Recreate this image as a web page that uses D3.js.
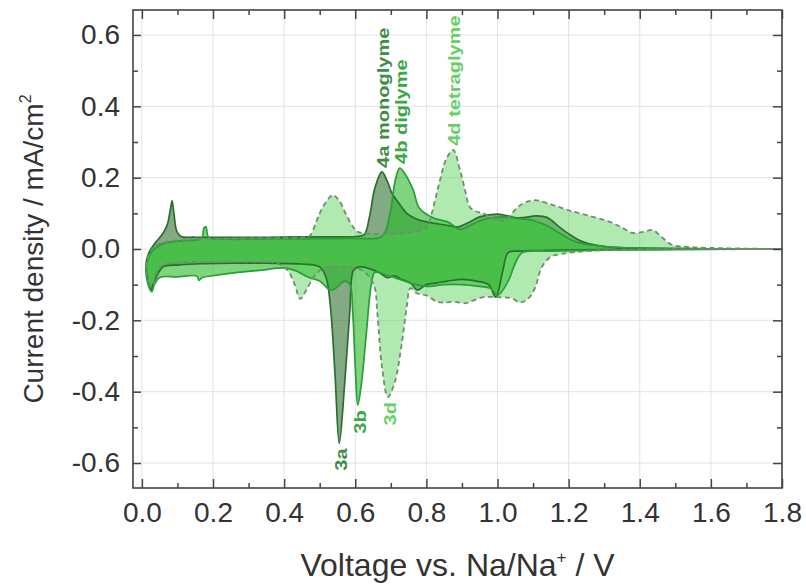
<!DOCTYPE html>
<html>
<head>
<meta charset="utf-8">
<script src="https://cdn.jsdelivr.net/npm/d3@7"></script>
<style>
  html, body { margin: 0; padding: 0; background: #fff; }
  svg { display: block; font-family: "Liberation Sans", Arial, Helvetica, sans-serif; }
</style>
</head>
<body>
<svg id="chart" width="806" height="585"></svg>
<script>
// Axis ticks
const xMajorTicks = [0, 0.2, 0.4, 0.6, 0.8, 1.0, 1.2, 1.4, 1.6, 1.8];
const xMinorTicks = [0.1, 0.3, 0.5, 0.7, 0.9, 1.1, 1.3, 1.5, 1.7];
const yMajorTicks = [-0.6, -0.4, -0.2, 0.0, 0.2, 0.4, 0.6];
const yMinorTicks = [-0.5, -0.3, -0.1, 0.1, 0.3, 0.5];

// Cyclic voltammograms: [voltage V, current density mA/cm2]
// cathodic sweep runs from high to low voltage, anodic sweep back up
const monoglymeCathodic = [[1.80,0.000],[1.50,-0.001],[1.30,-0.002],[1.15,-0.004],[1.06,-0.006],[1.03,-0.010],[1.015,-0.06],[0.995,-0.135],[0.975,-0.10],[0.94,-0.09],[0.90,-0.085],[0.86,-0.09],[0.83,-0.095],[0.80,-0.10],[0.775,-0.115],[0.755,-0.095],[0.73,-0.085],[0.71,-0.075],[0.69,-0.08],[0.67,-0.068],[0.64,-0.055],[0.61,-0.05],[0.595,-0.06],[0.585,-0.17],[0.570,-0.38],[0.555,-0.545],[0.543,-0.35],[0.530,-0.16],[0.518,-0.08],[0.50,-0.05],[0.45,-0.042],[0.35,-0.040],[0.25,-0.040],[0.15,-0.042],[0.10,-0.045],[0.06,-0.05],[0.035,-0.09],[0.025,-0.115],[0.015,-0.08]];
const monoglymeAnodic = [[0.012,-0.04],[0.02,-0.01],[0.04,0.02],[0.06,0.045],[0.072,0.07],[0.080,0.11],[0.085,0.135],[0.090,0.10],[0.098,0.05],[0.11,0.035],[0.15,0.033],[0.25,0.033],[0.35,0.033],[0.45,0.034],[0.55,0.034],[0.60,0.035],[0.625,0.04],[0.64,0.09],[0.655,0.17],[0.675,0.216],[0.69,0.19],[0.703,0.157],[0.725,0.125],[0.745,0.10],[0.77,0.085],[0.80,0.076],[0.85,0.068],[0.89,0.062],[0.92,0.075],[0.95,0.09],[1.00,0.098],[1.06,0.087],[1.11,0.093],[1.14,0.088],[1.17,0.065],[1.195,0.046],[1.24,0.02],[1.31,0.006],[1.45,0.002],[1.79,0.000]];

const diglymeCathodic = [[1.80,0.000],[1.50,-0.001],[1.30,-0.003],[1.15,-0.006],[1.07,-0.010],[1.05,-0.04],[1.03,-0.09],[1.00,-0.13],[0.98,-0.11],[0.95,-0.105],[0.90,-0.10],[0.85,-0.10],[0.80,-0.105],[0.77,-0.10],[0.74,-0.09],[0.71,-0.08],[0.68,-0.07],[0.655,-0.065],[0.645,-0.10],[0.63,-0.25],[0.617,-0.38],[0.607,-0.438],[0.60,-0.33],[0.593,-0.18],[0.585,-0.10],[0.57,-0.09],[0.545,-0.11],[0.53,-0.115],[0.50,-0.09],[0.47,-0.08],[0.43,-0.06],[0.40,-0.053],[0.33,-0.06],[0.26,-0.067],[0.20,-0.075],[0.17,-0.08],[0.16,-0.088],[0.155,-0.076],[0.10,-0.078],[0.05,-0.08],[0.035,-0.10],[0.028,-0.12],[0.015,-0.09]];
const diglymeAnodic = [[0.012,-0.05],[0.02,-0.02],[0.035,0.0],[0.06,0.015],[0.10,0.022],[0.15,0.025],[0.168,0.03],[0.175,0.06],[0.180,0.062],[0.188,0.032],[0.22,0.028],[0.35,0.028],[0.50,0.029],[0.60,0.030],[0.67,0.032],[0.685,0.05],[0.70,0.11],[0.712,0.19],[0.725,0.227],[0.74,0.21],[0.763,0.165],[0.78,0.115],[0.82,0.087],[0.86,0.076],[0.895,0.055],[0.93,0.07],[0.97,0.085],[1.02,0.09],[1.06,0.085],[1.10,0.080],[1.14,0.065],[1.175,0.044],[1.22,0.02],[1.30,0.007],[1.45,0.002],[1.79,0.000]];

const tetraglymeCathodic = [[1.80,0.000],[1.60,-0.001],[1.40,-0.002],[1.25,-0.006],[1.18,-0.014],[1.15,-0.022],[1.125,-0.05],[1.105,-0.11],[1.085,-0.14],[1.063,-0.15],[1.04,-0.138],[1.00,-0.135],[0.96,-0.135],[0.93,-0.145],[0.91,-0.152],[0.88,-0.148],[0.85,-0.15],[0.83,-0.148],[0.80,-0.13],[0.773,-0.124],[0.755,-0.11],[0.745,-0.16],[0.73,-0.27],[0.712,-0.37],[0.692,-0.415],[0.675,-0.33],[0.662,-0.18],[0.652,-0.10],[0.62,-0.06],[0.57,-0.05],[0.52,-0.05],[0.49,-0.07],[0.465,-0.11],[0.445,-0.14],[0.43,-0.10],[0.41,-0.06],[0.38,-0.04],[0.30,-0.036],[0.20,-0.036],[0.10,-0.038],[0.06,-0.045],[0.04,-0.07],[0.03,-0.10],[0.018,-0.09]];
const tetraglymeAnodic = [[0.012,-0.05],[0.02,-0.015],[0.04,0.01],[0.08,0.022],[0.15,0.027],[0.30,0.030],[0.44,0.032],[0.47,0.035],[0.48,0.05],[0.50,0.10],[0.52,0.135],[0.537,0.151],[0.555,0.135],[0.575,0.095],[0.595,0.06],[0.607,0.048],[0.65,0.042],[0.70,0.042],[0.75,0.045],[0.80,0.06],[0.815,0.10],[0.835,0.18],[0.855,0.25],[0.875,0.278],[0.895,0.22],[0.91,0.16],[0.922,0.118],[0.94,0.105],[0.96,0.10],[0.99,0.085],[1.02,0.08],[1.06,0.12],[1.10,0.137],[1.15,0.125],[1.195,0.11],[1.25,0.095],[1.316,0.076],[1.35,0.06],[1.38,0.045],[1.41,0.048],[1.437,0.053],[1.46,0.035],[1.49,0.012],[1.55,0.005],[1.65,0.002],[1.79,0.000]];

const electrolytes = [
  { name: "monoglyme", ox: "4a", red: "3a", cathodic: monoglymeCathodic, anodic: monoglymeAnodic,
    fill: "rgb(30,100,30)", fillOpacity: 0.55, stroke: "#2b6e30", dash: null, text: "#3f8c46" },
  { name: "diglyme", ox: "4b", red: "3b", cathodic: diglymeCathodic, anodic: diglymeAnodic,
    fill: "rgb(40,185,40)", fillOpacity: 0.6, stroke: "#2a9e36", dash: null, text: "#3aa845" },
  { name: "tetraglyme", ox: "4d", red: "3d", cathodic: tetraglymeCathodic, anodic: tetraglymeAnodic,
    fill: "rgb(70,205,70)", fillOpacity: 0.42, stroke: "#6f8f6f", dash: "5,3.5", text: "#66cf66" }
];

const W = 806, H = 585;
const margin = { left: 133, right: 24, top: 10, bottom: 97 };
const svg = d3.select("#chart");

const x = d3.scaleLinear().domain([-0.025, 1.8]).range([margin.left, W - margin.right]);
const y = d3.scaleLinear().domain([-0.67, 0.67]).range([H - margin.bottom, margin.top]);
const x0 = margin.left, x1 = W - margin.right, y0 = H - margin.bottom, y1 = margin.top;

// grid
const grid = svg.append("g").attr("stroke", "#e2e2e2").attr("stroke-width", 1);
grid.selectAll(".gx").data(xMajorTicks).join("line")
  .attr("x1", d => x(d)).attr("x2", d => x(d)).attr("y1", y1).attr("y2", y0);
grid.selectAll(".gy").data(yMajorTicks).join("line")
  .attr("x1", x0).attr("x2", x1).attr("y1", d => y(d)).attr("y2", d => y(d));

// closed CV loops
const loop = d3.line().x(d => x(d[0])).y(d => y(d[1])).curve(d3.curveCatmullRomClosed.alpha(0.5));
const plot = svg.append("g");
electrolytes.forEach(e => {
  plot.append("path")
    .datum(e.cathodic.concat(e.anodic))
    .attr("d", loop)
    .attr("fill", e.fill).attr("fill-opacity", e.fillOpacity)
    .attr("stroke", "none");
});
electrolytes.forEach(e => {
  plot.append("path")
    .datum(e.cathodic.concat(e.anodic))
    .attr("d", loop)
    .attr("fill", "none")
    .attr("stroke", e.stroke).attr("stroke-width", e.dash ? 1.8 : 1.7)
    .attr("stroke-dasharray", e.dash)
    .attr("stroke-linejoin", "round");
});

// peak labels, set in a tall narrow bold face
const stretch = 1.18;
const labels = svg.append("g").attr("font-weight", "bold").attr("font-size", 17);
function stretchText(sel) {
  sel.each(function () {
    const len = this.getComputedTextLength();
    d3.select(this).attr("textLength", len * stretch).attr("lengthAdjust", "spacingAndGlyphs");
  });
}
electrolytes.forEach(e => {
  const pk = d3.greatest(e.anodic, d => d[1]);
  const tr = d3.least(e.cathodic, d => d[1]);
  labels.append("text")
    .attr("transform", `translate(${x(pk[0]) + 1},${y(pk[1]) - 4}) rotate(-90)`)
    .attr("dy", "0.35em")
    .attr("fill", e.text)
    .text(`${e.ox} ${e.name}`)
    .call(stretchText);
  labels.append("text")
    .attr("transform", `translate(${x(tr[0]) + 2},${y(tr[1]) + 5}) rotate(-90)`)
    .attr("text-anchor", "end")
    .attr("dy", "0.35em")
    .attr("fill", e.text)
    .text(e.red)
    .call(stretchText);
});

// axes (ticks point inward)
const tickColor = "#444";
function styleAxis(g) {
  g.select(".domain").remove();
  g.selectAll(".tick line").attr("stroke", tickColor).attr("stroke-width", 1.5);
  g.selectAll(".tick text").attr("fill", "#333").attr("font-size", 28)
    .attr("font-family", "Liberation Sans, Arial, sans-serif");
}
const fmt = d => d.toFixed(1);
svg.append("g").attr("transform", `translate(0,${y0})`)
  .call(d3.axisBottom(x).tickValues(xMajorTicks).tickSize(-9).tickPadding(14).tickFormat(fmt)).call(styleAxis);
svg.append("g").attr("transform", `translate(0,${y0})`)
  .call(d3.axisBottom(x).tickValues(xMinorTicks).tickSize(-5).tickFormat("")).call(styleAxis);
svg.append("g").attr("transform", `translate(0,${y1})`)
  .call(d3.axisTop(x).tickValues(xMajorTicks).tickSize(-9).tickFormat("")).call(styleAxis);
svg.append("g").attr("transform", `translate(0,${y1})`)
  .call(d3.axisTop(x).tickValues(xMinorTicks).tickSize(-5).tickFormat("")).call(styleAxis);
svg.append("g").attr("transform", `translate(${x0},0)`)
  .call(d3.axisLeft(y).tickValues(yMajorTicks).tickSize(-8).tickPadding(13).tickFormat(fmt)).call(styleAxis);
svg.append("g").attr("transform", `translate(${x0},0)`)
  .call(d3.axisLeft(y).tickValues(yMinorTicks).tickSize(-5).tickFormat("")).call(styleAxis);
svg.append("g").attr("transform", `translate(${x1},0)`)
  .call(d3.axisRight(y).tickValues(yMajorTicks).tickSize(-9).tickFormat("")).call(styleAxis);
svg.append("g").attr("transform", `translate(${x1},0)`)
  .call(d3.axisRight(y).tickValues(yMinorTicks).tickSize(-5).tickFormat("")).call(styleAxis);

// frame
svg.append("rect").attr("x", x0).attr("y", y1).attr("width", x1 - x0).attr("height", y0 - y1)
  .attr("fill", "none").attr("stroke", "#444").attr("stroke-width", 1.6);

// axis titles
const xt = svg.append("text")
  .attr("x", (x0 + x1) / 2).attr("y", 576)
  .attr("text-anchor", "middle").attr("font-size", 32).attr("fill", "#333");
xt.append("tspan").text("Voltage vs. Na/Na");
xt.append("tspan").attr("font-size", 17).attr("dy", -13).text("+");
xt.append("tspan").attr("dy", 13).text(" / V");

const yt = svg.append("text")
  .attr("transform", `translate(43,${(y0 + y1) / 2}) rotate(-90)`)
  .attr("text-anchor", "middle").attr("font-size", 28).attr("fill", "#333");
yt.append("tspan").text("Current density / mA/cm");
yt.append("tspan").attr("font-size", 16).attr("dy", -12).text("2");
</script>
</body>
</html>
